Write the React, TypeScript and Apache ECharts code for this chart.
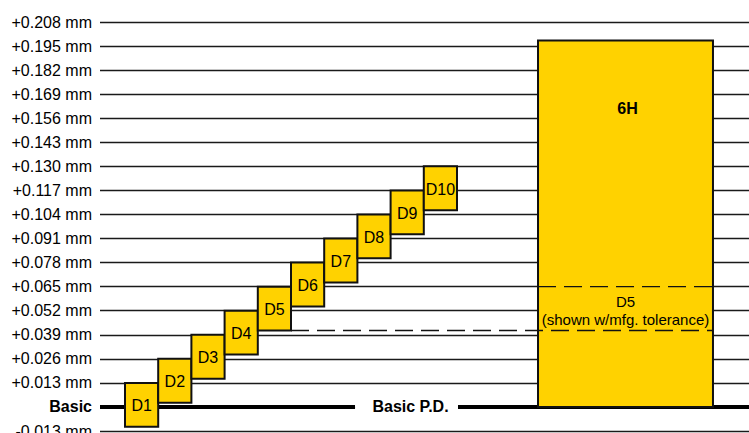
import React, { useEffect, useRef } from "react";
import * as echarts from "echarts";

// ---- data ----
const categories = ["D1", "D2", "D3", "D4", "D5", "D6", "D7", "D8", "D9", "D10"];
const upperLimits = [0.013, 0.026, 0.039, 0.052, 0.065, 0.078, 0.091, 0.104, 0.117, 0.13];
const lowerLimits = [-0.0107, 0.0023, 0.0153, 0.0283, 0.0413, 0.0543, 0.0673, 0.0803, 0.0933, 0.1063];
const classLabel = "6H";
const classUpper = 0.198;
const classLower = 0;
const highlightedLimit = "D5";
const highlightNote = "(shown w/mfg. tolerance)";
const basicLabel = "Basic P.D.";
const tickLabels = [
  "-0.013 mm", "Basic", "+0.013 mm", "+0.026 mm", "+0.039 mm", "+0.052 mm", "+0.065 mm",
  "+0.078 mm", "+0.091 mm", "+0.104 mm", "+0.117 mm", "+0.130 mm", "+0.143 mm",
  "+0.156 mm", "+0.169 mm", "+0.182 mm", "+0.195 mm", "+0.208 mm",
];
const tickStep = 0.013;

// ---- layout / style ----
const FONT = '"Liberation Sans", Arial, sans-serif';
const YELLOW = "#FFD200";
const X_MIN = -0.253;
const X_MAX = 19.295;
const CLASS_X0 = 12.94;
const CLASS_X1 = 18.21;
const BASIC_GAP0 = 7.43;
const BASIC_GAP1 = 10.53;
const BASIC_TEXT_X = 9.1;

export default function App() {
  const ref = useRef<HTMLDivElement>(null);
  useEffect(() => {
    if (!ref.current) return;
    const chart = echarts.init(ref.current, null, { renderer: "svg" });
    const hIdx = categories.indexOf(highlightedLimit);

    const option: any = {
      animation: false,
      backgroundColor: "#ffffff",
      grid: { left: 100, right: 0, top: 22, bottom: 2, containLabel: false, outerBoundsMode: "none" },
      xAxis: { type: "value", min: X_MIN, max: X_MAX, show: false },
      yAxis: {
        type: "value",
        min: -tickStep,
        max: tickStep * 16,
        interval: tickStep,
        axisLine: { show: false },
        axisTick: { show: false },
        splitLine: { show: true, lineStyle: { color: "#1a1a1a", width: 1.4 } },
        axisLabel: {
          margin: 8,
          color: "#000",
          fontFamily: FONT,
          fontSize: 16,
          formatter: (v: number) => {
            const k = Math.round(v / tickStep) + 1;
            const t = tickLabels[k] ?? "";
            return t === "Basic" ? "{b|Basic}" : t;
          },
          rich: { b: { fontFamily: FONT, fontSize: 16, fontWeight: "bold", color: "#000" } },
        },
      },
      series: [
        {
          type: "custom",
          name: "basic",
          z: 2,
          data: [[0]],
          renderItem: (params: any, api: any) => {
            const a = api.coord([X_MIN, 0]);
            const g0 = api.coord([BASIC_GAP0, 0]);
            const g1 = api.coord([BASIC_GAP1, 0]);
            const b = api.coord([X_MAX, 0]);
            const t = api.coord([BASIC_TEXT_X, 0]);
            return {
              type: "group",
              children: [
                { type: "line", shape: { x1: a[0], y1: a[1], x2: g0[0], y2: g0[1] }, style: { stroke: "#000", lineWidth: 4 } },
                { type: "line", shape: { x1: g1[0], y1: g1[1], x2: b[0], y2: b[1] }, style: { stroke: "#000", lineWidth: 4 } },
                { type: "rect", shape: { x: g0[0], y: g0[1] - 3, width: g1[0] - g0[0], height: 6 }, style: { fill: "#fff" } },
                {
                  type: "text",
                  x: t[0],
                  y: t[1],
                  style: { text: basicLabel, font: `bold 16px ${FONT}`, fill: "#000", align: "center", verticalAlign: "middle" },
                },
              ],
            };
          },
        },
        {
          type: "custom",
          name: "limits",
          z: 3,
          data: categories.map((c, i) => [i + 1, lowerLimits[i], upperLimits[i]]),
          renderItem: (params: any, api: any) => {
            const slot = api.value(0);
            const p0 = api.coord([slot - 0.5, api.value(2)]);
            const p1 = api.coord([slot + 0.5, api.value(1)]);
            return {
              type: "group",
              children: [
                {
                  type: "rect",
                  shape: { x: p0[0], y: p0[1], width: p1[0] - p0[0], height: p1[1] - p0[1] },
                  style: { fill: YELLOW, stroke: "#111", lineWidth: 2 },
                },
                {
                  type: "text",
                  x: (p0[0] + p1[0]) / 2,
                  y: (p0[1] + p1[1]) / 2 + 1,
                  style: { text: categories[params.dataIndex], font: `16px ${FONT}`, fill: "#000", align: "center", verticalAlign: "middle" },
                },
              ],
            };
          },
        },
        {
          type: "custom",
          name: "class",
          z: 3,
          data: [[CLASS_X0, CLASS_X1, classLower, classUpper]],
          renderItem: (params: any, api: any) => {
            const p0 = api.coord([api.value(0), api.value(3)]);
            const p1 = api.coord([api.value(1), api.value(2)]);
            const hi = api.coord([api.value(0), upperLimits[hIdx]]);
            const lo = api.coord([hIdx + 1.5, lowerLimits[hIdx]]);
            const cx = (p0[0] + p1[0]) / 2;
            const dash = { stroke: "#111", lineWidth: 1.3, lineDash: [18, 8] };
            return {
              type: "group",
              children: [
                {
                  type: "rect",
                  shape: { x: p0[0], y: p0[1], width: p1[0] - p0[0], height: p1[1] - p0[1] },
                  style: { fill: YELLOW, stroke: "#111", lineWidth: 2 },
                },
                { type: "line", shape: { x1: p0[0], y1: hi[1], x2: p1[0], y2: hi[1] }, style: dash },
                { type: "line", shape: { x1: lo[0], y1: lo[1], x2: p1[0], y2: lo[1] }, style: dash },
                {
                  type: "text",
                  x: cx + 2,
                  y: p0[1] + 68,
                  style: { text: classLabel, font: `bold 16px ${FONT}`, fill: "#000", align: "center", verticalAlign: "middle" },
                },
                {
                  type: "text",
                  x: cx,
                  y: (hi[1] + lo[1]) / 2 - 7,
                  style: { text: highlightedLimit, font: `15px ${FONT}`, fill: "#000", align: "center", verticalAlign: "middle" },
                },
                {
                  type: "text",
                  x: cx,
                  y: (hi[1] + lo[1]) / 2 + 11,
                  style: { text: highlightNote, font: `15px ${FONT}`, fill: "#000", align: "center", verticalAlign: "middle" },
                },
              ],
            };
          },
        },
      ],
    };
    chart.setOption(option);
    return () => chart.dispose();
  }, []);
  return (
    <div
      ref={ref}
      style={{ position: "fixed", left: 0, top: 0, width: 749, height: 433, background: "#fff" }}
    />
  );
}
